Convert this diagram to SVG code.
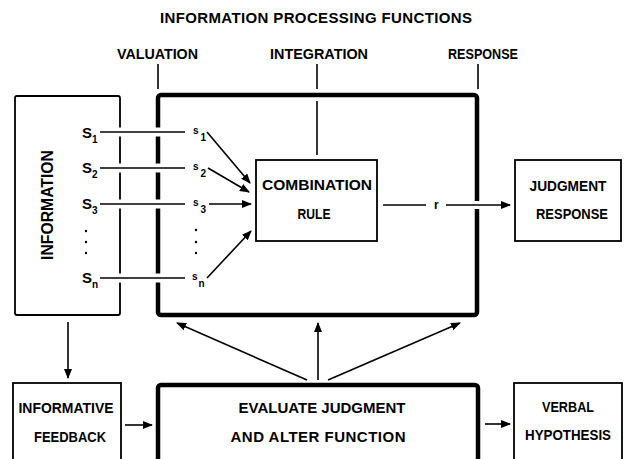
<svg xmlns="http://www.w3.org/2000/svg" width="629" height="459" viewBox="0 0 629 459">
<style>
text{font-family:"Liberation Sans",Arial,sans-serif;font-weight:bold;fill:#000}
.lbl{font-size:15px}
.big{font-size:15px;text-anchor:middle}
.thin{fill:none;stroke:#000;stroke-width:1.8}
.thick{fill:none;stroke:#000;stroke-width:4.5}
.ln{stroke:#000;stroke-width:1.6;fill:none}
.halo{stroke:#fff;stroke-width:9;fill:none}
.sub{font-size:10px}
</style>
<defs>
<marker id="ah" markerWidth="10" markerHeight="8" refX="9" refY="4" orient="auto" markerUnits="userSpaceOnUse">
<path d="M0,0 L10,4 L0,8 Z" fill="#000"/>
</marker>
</defs>
<rect width="629" height="459" fill="#fff"/>

<g id="title">
<text x="316" y="23" class="big" textLength="312" lengthAdjust="spacing">INFORMATION PROCESSING FUNCTIONS</text>
</g>
<g id="headers">
<text x="117" y="59" class="lbl" textLength="81" lengthAdjust="spacingAndGlyphs">VALUATION</text>
<text x="270" y="59" class="lbl" textLength="98" lengthAdjust="spacingAndGlyphs">INTEGRATION</text>
<text x="448" y="59" class="lbl" textLength="70" lengthAdjust="spacingAndGlyphs">RESPONSE</text>
<line x1="158" y1="64" x2="158" y2="89" class="ln"/>
<line x1="317" y1="64" x2="317" y2="89" class="ln"/>
<line x1="478" y1="64" x2="478" y2="89" class="ln"/>
</g>

<g id="information">
<rect x="15" y="96" width="105" height="219" rx="2" class="thin"/>
<text transform="translate(53,205) rotate(-90)" class="big" style="font-size:16px" textLength="110" lengthAdjust="spacingAndGlyphs">INFORMATION</text>
</g>

<g id="processing">
<rect x="158" y="95" width="319" height="220" rx="3" class="thick"/>
</g>

<g id="combination">
<rect x="256" y="160" width="121" height="81" class="thin"/>
<text x="317" y="190" class="big" textLength="110" lengthAdjust="spacingAndGlyphs">COMBINATION</text>
<text x="314" y="219" class="big" textLength="33" lengthAdjust="spacingAndGlyphs">RULE</text>
</g>

<g id="judgment">
<rect x="515" y="160" width="106" height="81" class="thin"/>
<text x="568" y="191" class="big" textLength="77" lengthAdjust="spacingAndGlyphs">JUDGMENT</text>
<text x="572" y="219" class="big" textLength="72" lengthAdjust="spacingAndGlyphs">RESPONSE</text>
</g>

<g id="feedback">
<rect x="13" y="383" width="108" height="90" class="thin"/>
<text x="66" y="413" class="big" textLength="95" lengthAdjust="spacingAndGlyphs">INFORMATIVE</text>
<text x="70" y="442" class="big" textLength="72" lengthAdjust="spacingAndGlyphs">FEEDBACK</text>
</g>

<g id="evaluate">
<rect x="158" y="385" width="320" height="90" rx="3" class="thick"/>
<text x="322" y="413" class="big" textLength="167" lengthAdjust="spacing">EVALUATE  JUDGMENT</text>
<text x="318" y="442" class="big" textLength="175" lengthAdjust="spacing">AND  ALTER  FUNCTION</text>
</g>

<g id="verbal">
<rect x="514" y="383" width="108" height="90" class="thin"/>
<text x="568" y="412" class="big" textLength="52" lengthAdjust="spacingAndGlyphs">VERBAL</text>
<text x="568" y="440" class="big" textLength="86" lengthAdjust="spacingAndGlyphs">HYPOTHESIS</text>
</g>

<g id="stimuli">
<text x="82" y="138" class="lbl">S<tspan class="sub" dy="5">1</tspan></text>
<text x="82" y="173" class="lbl">S<tspan class="sub" dy="5">2</tspan></text>
<text x="82" y="209" class="lbl">S<tspan class="sub" dy="5">3</tspan></text>
<text x="82" y="283" class="lbl">S<tspan class="sub" dy="5">n</tspan></text>
<circle cx="86" cy="231" r="1.2"/>
<circle cx="86" cy="242" r="1.2"/>
<circle cx="86" cy="253" r="1.2"/>
<text x="193" y="134" style="font-size:10px">s<tspan dx="2" dy="7">1</tspan></text>
<text x="193" y="170" style="font-size:10px">s<tspan dx="2" dy="7">2</tspan></text>
<text x="193" y="206" style="font-size:10px">s<tspan dx="2" dy="7">3</tspan></text>
<text x="192" y="280" style="font-size:10px">s<tspan dx="1" dy="7">n</tspan></text>
<circle cx="196" cy="230" r="1.2"/>
<circle cx="196" cy="242" r="1.2"/>
<circle cx="196" cy="253" r="1.2"/>
<text x="434" y="209" style="font-size:12px">r</text>
</g>

<g id="connectors">
<g>
<line x1="102" y1="132" x2="183" y2="132" class="halo"/>
<line x1="102" y1="168" x2="183" y2="168" class="halo"/>
<line x1="102" y1="204" x2="183" y2="204" class="halo"/>
<line x1="102" y1="278" x2="183" y2="278" class="halo"/>
<line x1="100" y1="132" x2="185" y2="132" class="ln"/>
<line x1="100" y1="168" x2="185" y2="168" class="ln"/>
<line x1="100" y1="204" x2="185" y2="204" class="ln"/>
<line x1="100" y1="278" x2="185" y2="278" class="ln"/>
</g>
<line x1="207" y1="132" x2="250" y2="183" class="ln" marker-end="url(#ah)"/>
<line x1="208" y1="168" x2="249" y2="192" class="ln" marker-end="url(#ah)"/>
<line x1="209" y1="204" x2="251" y2="204" class="ln" marker-end="url(#ah)"/>
<line x1="207" y1="278" x2="251" y2="231" class="ln" marker-end="url(#ah)"/>
<line x1="317" y1="101" x2="317" y2="155" class="ln"/>
<line x1="383" y1="205" x2="426" y2="205" class="ln"/>
<line x1="450" y1="205" x2="500" y2="205" class="halo" style="stroke-width:8"/>
<line x1="446" y1="205" x2="510" y2="205" class="ln" marker-end="url(#ah)"/>
<line x1="68" y1="322" x2="68" y2="378" class="ln" marker-end="url(#ah)"/>
<line x1="125" y1="425" x2="152" y2="425" class="ln" marker-end="url(#ah)"/>
<line x1="485" y1="424" x2="510" y2="424" class="ln" marker-end="url(#ah)"/>
<line x1="307" y1="380" x2="177" y2="323" class="ln" marker-end="url(#ah)"/>
<line x1="318" y1="380" x2="318" y2="323" class="ln" marker-end="url(#ah)"/>
<line x1="328" y1="380" x2="460" y2="323" class="ln" marker-end="url(#ah)"/>
</g>
</svg>
